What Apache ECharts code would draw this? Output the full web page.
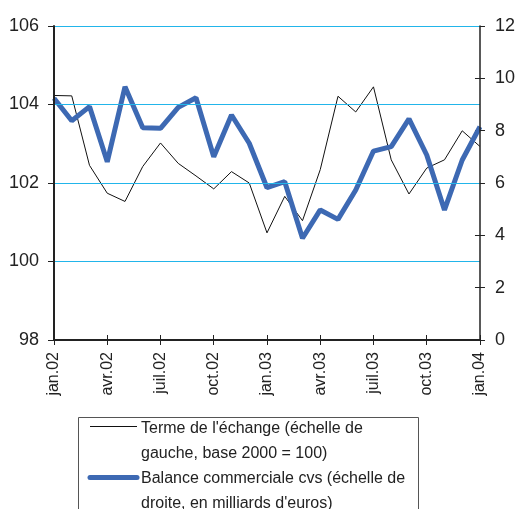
<!DOCTYPE html>
<html>
<head>
<meta charset="utf-8">
<script src="https://cdn.jsdelivr.net/npm/echarts@6/dist/echarts.min.js"></script>
<style>
html,body{margin:0;padding:0;background:#fff;}
#chart{width:518px;height:509px;}
</style>
</head>
<body>
<div id="chart"></div>
<script>
// mois, de jan.02 à jan.04
var months = ['jan.02','févr.02','mars02','avr.02','mai02','juin02','juil.02','août02','sept.02','oct.02','nov.02','déc.02',
  'jan.03','févr.03','mars03','avr.03','mai03','juin03','juil.03','août03','sept.03','oct.03','nov.03','déc.03','jan.04'];
// terme de l'échange (échelle de gauche)
var termes = [104.23,104.22,102.45,101.74,101.53,102.42,103.02,102.5,102.18,101.85,102.29,102.0,
  100.73,101.66,101.04,102.34,104.21,103.81,104.45,102.59,101.72,102.38,102.59,103.33,102.93];
// balance commerciale cvs (échelle de droite)
var balance = [9.24,8.38,8.92,6.81,9.68,8.11,8.09,8.89,9.26,7.0,8.6,7.52,
  5.82,6.05,3.89,4.97,4.61,5.73,7.22,7.39,8.45,7.07,4.97,6.88,8.15];
var nomTermes = "Terme de l'échange (échelle de\ngauche, base 2000 = 100)";
var nomBalance = "Balance commerciale cvs (échelle de\ndroite, en milliards d'euros)";

var font = 'Liberation Sans, Arial, sans-serif';
var myChart = echarts.init(document.getElementById('chart'));

var option = {
  animation: false,
  grid: {left: 54, right: 37, top: 26, bottom: 169},
  xAxis: [{
    type: 'category',
    data: months,
    boundaryGap: false,
    z: 5,
    axisLine: {lineStyle: {color: '#222', width: 2}},
    axisTick: {interval: 2, length: 5, lineStyle: {color: '#222'}},
    axisLabel: {interval: 2, rotate: 90, margin: 12, color: '#222', fontSize: 16, fontFamily: font},
    splitLine: {show: false}
  }, {
    // petits traits vers l'intérieur
    type: 'category',
    data: months,
    position: 'bottom',
    boundaryGap: false,
    axisLine: {show: false},
    axisTick: {interval: 2, inside: true, length: 5, lineStyle: {color: '#222'}},
    axisLabel: {show: false}
  }, {
    // bord du haut
    type: 'category',
    data: months,
    position: 'top',
    boundaryGap: false,
    axisLine: {show: true, lineStyle: {color: '#3a6f85', width: 1}},
    axisTick: {show: false},
    axisLabel: {show: false}
  }],
  yAxis: [{
    type: 'value',
    min: 98, max: 106, interval: 2,
    z: 5,
    axisLine: {show: true, lineStyle: {color: '#222', width: 2}},
    axisTick: {show: true, length: 6, lineStyle: {color: '#222'}},
    axisLabel: {margin: 15, color: '#222', fontSize: 18, fontFamily: font},
    splitLine: {show: true, lineStyle: {color: '#22b5ea', width: 1}}
  }, {
    type: 'value',
    min: 0, max: 12, interval: 2,
    position: 'right',
    z: 5,
    axisLine: {show: true, lineStyle: {color: '#222', width: 1.5}},
    axisTick: {show: true, length: 5, lineStyle: {color: '#222'}},
    axisLabel: {margin: 15, color: '#222', fontSize: 18, fontFamily: font},
    splitLine: {show: false}
  }, {
    type: 'value',
    min: 0, max: 12, interval: 2,
    position: 'right',
    axisLine: {show: false},
    axisTick: {show: true, inside: true, length: 5, lineStyle: {color: '#222'}},
    axisLabel: {show: false},
    splitLine: {show: false}
  }],
  series: [{
    name: nomTermes,
    type: 'line',
    yAxisIndex: 0,
    data: termes,
    symbol: 'none',
    z: 3,
    lineStyle: {color: '#111', width: 1}
  }, {
    name: nomBalance,
    type: 'line',
    yAxisIndex: 1,
    data: balance,
    symbol: 'none',
    z: 4,
    lineStyle: {color: '#3d69b3', width: 5}
  }],
  // légende dessinée à la main
  graphic: [
    {type: 'rect', shape: {x: 78.5, y: 417.5, width: 340, height: 110}, style: {fill: '#fff', stroke: '#555', lineWidth: 1}},
    {type: 'line', shape: {x1: 90, y1: 426.5, x2: 137, y2: 426.5}, style: {stroke: '#111', lineWidth: 1}},
    {type: 'text', left: 141, top: 416, style: {text: nomTermes, font: '16px ' + font, fill: '#222', lineHeight: 25}},
    {type: 'line', shape: {x1: 90, y1: 477.5, x2: 137, y2: 477.5}, style: {stroke: '#3d69b3', lineWidth: 5, lineCap: 'round'}},
    {type: 'text', left: 141, top: 466, style: {text: nomBalance, font: '16px ' + font, fill: '#222', lineHeight: 25}}
  ]
};
myChart.setOption(option);
</script>
</body>
</html>
